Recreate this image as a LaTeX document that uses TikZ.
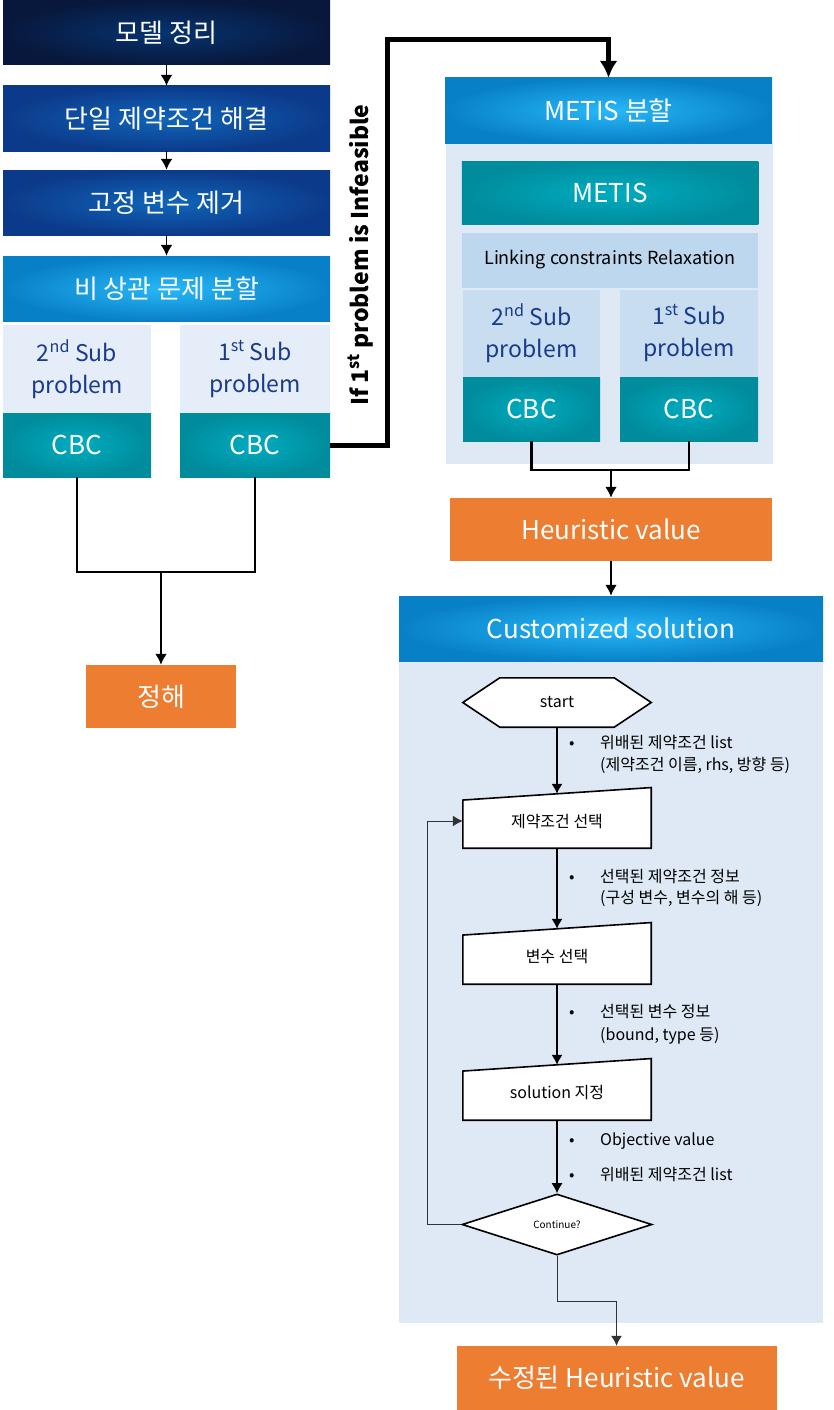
\documentclass[tikz,border=0pt]{standalone}
\usepackage{fontspec}
\setmainfont{Noto Sans CJK KR}
\usetikzlibrary{arrows.meta,shapes.geometric,calc,backgrounds}

\definecolor{navyin}{RGB}{6,52,112}
\definecolor{navyout}{RGB}{8,24,60}
\definecolor{bluein}{RGB}{16,102,186}
\definecolor{blueout}{RGB}{12,58,138}
\definecolor{skyin}{RGB}{40,184,248}
\definecolor{skyout}{RGB}{8,128,200}
\definecolor{tealin}{RGB}{0,172,192}
\definecolor{tealout}{RGB}{0,140,156}
\definecolor{orng}{RGB}{236,125,49}
\definecolor{panel}{RGB}{222,233,245}
\definecolor{subA}{RGB}{229,238,248}
\definecolor{subB}{RGB}{200,221,240}
\definecolor{linkc}{RGB}{189,215,238}
\definecolor{subtxt}{RGB}{26,58,140}

\begin{document}
\begin{tikzpicture}[x=1pt,y=-1pt,
    stage/.style={rectangle, inner sep=0pt, minimum width=327pt, minimum height=65pt,
      text=white, font=\fontsize{26}{30}\selectfont},
    navy/.style={inner color=navyin, outer color=navyout},
    deep/.style={inner color=bluein, outer color=blueout},
    sky/.style={inner color=skyin, outer color=skyout},
    cbc/.style={rectangle, inner sep=0pt, minimum height=64pt, inner color=tealin,
      outer color=tealout, text=white, font=\fontsize{26}{30}\selectfont},
    subp/.style={rectangle, inner sep=0pt, align=center, text=subtxt,
      font=\fontsize{23}{32}\selectfont},
    result/.style={rectangle, inner sep=0pt, minimum height=63pt, fill=orng,
      text=white, font=\fontsize{26}{30}\selectfont},
    link/.style={line width=2.5pt},
    arr/.style={-{Latex[length=11pt,width=12pt]}},
    flowtxt/.style={inner sep=0pt, minimum width=188pt, font=\fontsize{16}{19}\selectfont},
    outline/.style={draw=black, fill=white, line width=1.6pt, line join=miter},
    fl/.style={line width=1.2pt, -{Latex[length=10pt,width=11pt]}},
    fb/.style={line width=1pt, draw=black!80, -{Latex[length=10pt,width=11pt]}},
    note/.style={anchor=base west, inner sep=0pt, font=\fontsize{16}{22}\selectfont}]

  \useasboundingbox (0,0) rectangle (834,1410);

  % left column
  \node[stage, navy] (model) at (166.5,32.5) {모델 정리};
  \node[stage, deep] (single) at (166.5,118.5) {단일 제약조건 해결};
  \node[stage, deep] (fixed) at (166.5,202.5) {고정 변수 제거};
  \node[stage, sky] (split) at (166.5,288.5) {비 상관 문제 분할};

  \draw[line width=1.6pt, arr] (model) -- (single);
  \draw[line width=1.6pt, arr] (single) -- (fixed);
  \draw[line width=1.6pt, arr] (fixed) -- (split);

  \node[subp, fill=subA, minimum width=148pt, minimum height=88pt] (subA) at (77,369) {2\textsuperscript{nd} Sub\\problem};
  \node[cbc, minimum width=148pt] (cbcA) at (77,445) {CBC};
  \node[subp, fill=subA, minimum width=150pt, minimum height=88pt] (subB) at (255,369) {1\textsuperscript{st} Sub\\problem};
  \node[cbc, minimum width=150pt] (cbcB) at (255,445) {CBC};

  \node[result, minimum width=150pt] (exact) at (161,696.5) {정해};

  \coordinate (jl) at (161,572);
  \draw[link] (cbcA.south) |- (jl);
  \draw[link] (cbcB.south) |- (jl);
  \draw[link, arr] (jl) -- (exact.north);

  % infeasible branch
  \coordinate (turn) at (387,40);
  \node[rotate=90, font=\bfseries\fontsize{23}{26}\selectfont] (cond) at (361,255) {If 1\textsuperscript{st} problem is Infeasible};

  % right column: METIS
  \begin{scope}[on background layer]
    \node[fill=panel, inner sep=0pt, minimum width=327pt, minimum height=321pt] (mpanel) at (609,303.5) {};
  \end{scope}
  \node[stage, sky] (mhdr) at (608.5,110.5) {METIS 분할};
  \draw[line width=5pt, -{Latex[length=17pt,width=18pt]}] (cbcB.east) -| (turn) -| (mhdr.north);

  \node[cbc, minimum width=296.5pt, minimum height=63.5pt] (metis) at (610,193) {METIS};
  \node[fill=linkc, inner sep=0pt, minimum width=296.5pt, minimum height=55pt,
    font=\fontsize{18}{21}\selectfont] (relax) at (610,260) {Linking constraints Relaxation};
  \node[subp, fill=subB, minimum width=137pt, minimum height=87pt] (rsubA) at (531.5,333.5) {2\textsuperscript{nd} Sub\\problem};
  \node[cbc, minimum width=137pt] (rcbcA) at (531.5,409) {CBC};
  \node[subp, fill=subB, minimum width=138pt, minimum height=87pt] (rsubB) at (689,333.5) {1\textsuperscript{st} Sub\\problem};
  \node[cbc, minimum width=138pt] (rcbcB) at (689,409) {CBC};

  \node[result, minimum width=322pt] (heur) at (611,529.5) {Heuristic value};

  \coordinate (jr) at (611,470);
  \draw[link] (rcbcA.south) |- (jr);
  \draw[link] (rcbcB.south) |- (jr);
  \draw[link, arr] (jr) -- (heur.north);

  % customized solution
  \begin{scope}[on background layer]
    \node[fill=panel, inner sep=0pt, minimum width=424pt, minimum height=662pt] (cpanel) at (611,992) {};
  \end{scope}
  \node[stage, sky, minimum width=424pt] (cust) at (611,628.5) {Customized solution};
  \draw[link, arr] (heur) -- (cust);

  \node[flowtxt, minimum height=49pt] (start) at (557,702.5) {start};
  \node[flowtxt, minimum height=54pt] (csel) at (557,821) {제약조건 선택};
  \node[flowtxt, minimum height=55pt] (vsel) at (557,956.5) {변수 선택};
  \node[flowtxt, minimum height=55pt] (ssel) at (557,1092.5) {solution 지정};
  \node[diamond, outline, aspect=3.1, minimum width=190pt, minimum height=61pt, inner sep=0pt,
    font=\fontsize{10}{12}\selectfont] (dia) at (557,1224.5) {Continue?};

  \begin{scope}[on background layer]
    \draw[outline] (start.west) -- ($(start.north west)+(37,0)$) -- ($(start.north east)+(-37,0)$)
      -- (start.east) -- ($(start.south east)+(-37,0)$) -- ($(start.south west)+(37,0)$) -- cycle;
    \draw[outline] (csel.south west) -- (csel.south east) -- ($(csel.north east)+(0,-6.25)$)
      -- ($(csel.north west)+(0,6.25)$) -- cycle;
    \draw[outline] (vsel.south west) -- (vsel.south east) -- ($(vsel.north east)+(0,-6.25)$)
      -- ($(vsel.north west)+(0,6.25)$) -- cycle;
    \draw[outline] (ssel.south west) -- (ssel.south east) -- ($(ssel.north east)+(0,-6.25)$)
      -- ($(ssel.north west)+(0,6.25)$) -- cycle;
  \end{scope}

  \draw[fl] (start.south) -- (csel.north);
  \draw[fl] (csel.south) -- (vsel.north);
  \draw[fl] (vsel.south) -- (ssel.north);
  \draw[fl] (ssel.south) -- (dia.north);

  \node[note] (n1) at (569,748.5) {\makebox[31pt][l]{•}위배된 제약조건 list};
  \node[note] (n1b) at (600,770.5) {(제약조건 이름, rhs, 방향 등)};
  \node[note] (n2) at (569,882.5) {\makebox[31pt][l]{•}선택된 제약조건 정보};
  \node[note] (n2b) at (600,903.5) {(구성 변수, 변수의 해 등)};
  \node[note] (n3) at (569,1017.5) {\makebox[31pt][l]{•}선택된 변수 정보};
  \node[note] (n3b) at (600,1040.5) {(bound, type 등)};
  \node[note] (n4) at (569,1145.5) {\makebox[31pt][l]{•}Objective value};
  \node[note] (n5) at (569,1180.5) {\makebox[31pt][l]{•}위배된 제약조건 list};

  \node[result, minimum width=320pt, minimum height=64pt] (fin) at (616.5,1378) {수정된 Heuristic value};

  \draw[fb] (dia.west) -- ++(-34,0) |- (csel.west);
  \draw[fb] (dia.south) -- ++(0,46) -| (fin.north);
\end{tikzpicture}
\end{document}
